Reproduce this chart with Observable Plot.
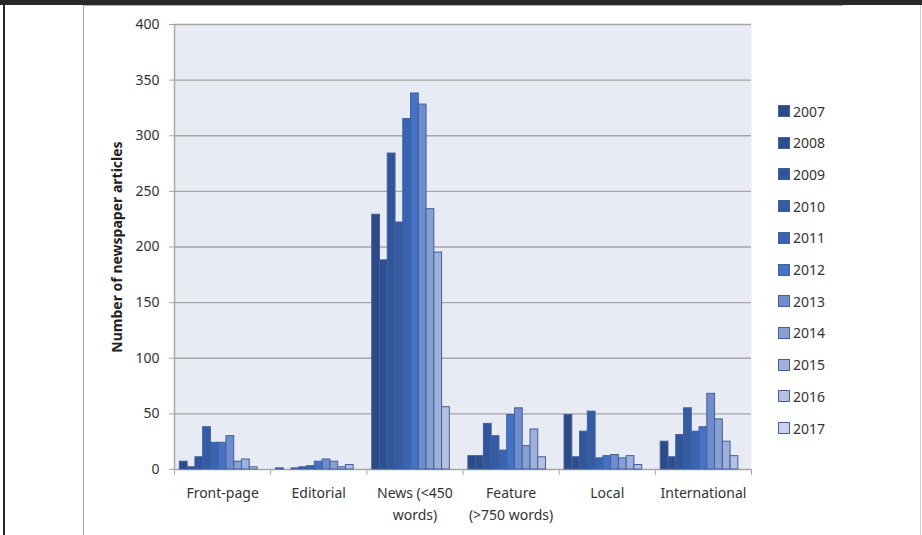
<!DOCTYPE html>
<html>
<head>
<meta charset="utf-8">
<script src="https://cdn.jsdelivr.net/npm/d3@7"></script>
<script src="https://cdn.jsdelivr.net/npm/@observablehq/plot@0.6"></script>
<style>
  html, body { margin: 0; padding: 0; background: #fff; }
  #page { position: relative; width: 922px; height: 535px; overflow: hidden; font-family: "Noto Sans", sans-serif; }
  #chart { position: absolute; left: 0; top: 0; }
  .topbar { position: absolute; left: 0; top: 0; width: 922px; height: 5px; background: #2a2727; }
  .leftbar { position: absolute; left: 3px; top: 0; width: 2px; height: 535px; background: #2a2727; }
  .innerline-v { position: absolute; left: 83px; top: 5px; width: 1px; height: 530px; background: #a8a8a8; }
  .innerline-h { position: absolute; left: 83px; top: 5px; width: 760px; height: 1px; background: #b0b0b0; }
  .rightline { position: absolute; left: 920px; top: 5px; width: 1px; height: 530px; background: #d0d0d0; }
  #legend { position: absolute; left: 778px; top: 103px; }
  .item { position: absolute; left: 0; height: 16px; display: flex; align-items: center; font-size: 14px; color: #333; white-space: nowrap; }
  .swatch { width: 10px; height: 10px; border: 1px solid #40609e; margin-right: 3px; }
</style>
</head>
<body>
<div id="page">
  <div id="chart"></div>
  <div class="innerline-v"></div>
  <div class="innerline-h"></div>
  <div class="rightline"></div>
  <div class="topbar"></div>
  <div class="leftbar"></div>
  <div id="legend"></div>
</div>
<script>
// Article types and publication years
const categories = ["Front-page", "Editorial", "News (<450\nwords)", "Feature\n(>750 words)", "Local", "International"];
const years = [2007, 2008, 2009, 2010, 2011, 2012, 2013, 2014, 2015, 2016, 2017];

// Number of newspaper articles per year, one array per article type
const frontPage     = [7, 2, 11, 38, 24, 24, 30, 7, 9, 2, 0];
const editorial     = [1, 0, 1, 2, 3, 7, 9, 7, 2, 4, 0];
const news          = [229, 188, 284, 222, 315, 338, 328, 234, 195, 56, 0];
const feature       = [12, 12, 41, 30, 17, 49, 55, 21, 36, 11, 0];
const local         = [49, 11, 34, 52, 10, 12, 13, 10, 12, 4, 0];
const international = [25, 11, 31, 55, 34, 38, 68, 45, 25, 12, 0];

const yTicks = [0, 50, 100, 150, 200, 250, 300, 350, 400];
const yearColors = ["#2b4a86", "#2d4f90", "#30559b", "#345ca5", "#3964b2", "#4473c6",
                    "#6f8dcc", "#8aa0d4", "#a0b0da", "#b4c1e2", "#c8d1ea"];

const series = [frontPage, editorial, news, feature, local, international];
const rows = categories.flatMap((c, ci) =>
  series[ci].map((v, yi) => ({ci, yi, category: c, year: years[yi], value: v}))
);

// each category occupies one unit on x; the year bars fill it, with a small gap at each side
const groupPad = 0.056;
const barW = (1 - 2 * groupPad) / years.length;

const chart = Plot.plot({
  width: 922,
  height: 535,
  marginLeft: 174,
  marginRight: 171,
  marginTop: 24,
  marginBottom: 66,
  style: {fontFamily: "Noto Sans", fontSize: "14px", color: "#333", background: "transparent"},
  x: {domain: [0, categories.length], axis: null},
  y: {domain: [0, 400], axis: null},
  color: {domain: years, range: yearColors},
  marks: [
    Plot.frame({fill: "#e8eaf4", stroke: null}),
    Plot.ruleY(yTicks, {stroke: "#a6a6a6", strokeWidth: 1.4}),
    Plot.ruleX([0], {stroke: "#a6a6a6", strokeWidth: 1.4}),
    Plot.axisY({ticks: yTicks, tickSize: 5, tickPadding: 10, label: null, stroke: "#a6a6a6", fill: "#333", fontSize: 14}),
    Plot.rect(rows.filter(d => d.value > 0), {
      x1: d => d.ci + groupPad + d.yi * barW,
      x2: d => d.ci + groupPad + (d.yi + 1) * barW,
      y1: () => 0,
      y2: "value",
      fill: "year",
      stroke: "#40609e",
      strokeWidth: 1
    }),
    Plot.axisX({ticks: d3.range(categories.length + 1), tickSize: 6, tickFormat: () => "", label: null, stroke: "#a6a6a6"}),
    Plot.text(categories, {
      x: (d, i) => i + 0.5,
      frameAnchor: "bottom",
      lineAnchor: "top",
      dy: 13,
      lineHeight: 1.55,
      fontSize: 14,
      fill: "#333"
    }),
    Plot.text(["Number of newspaper articles"], {
      frameAnchor: "left",
      textAnchor: "middle",
      rotate: -90,
      dx: -57,
      fontWeight: "bold",
      fontSize: 14,
      fill: "#222"
    })
  ]
});
document.getElementById("chart").append(chart);

// Legend: one swatch per year
const legend = document.getElementById("legend");
years.forEach((y, i) => {
  const item = document.createElement("div");
  item.className = "item";
  item.style.top = (i * 31.7) + "px";
  const sw = document.createElement("div");
  sw.className = "swatch";
  sw.style.background = yearColors[i];
  const label = document.createElement("span");
  label.textContent = y;
  item.append(sw, label);
  legend.append(item);
});
</script>
</body>
</html>
